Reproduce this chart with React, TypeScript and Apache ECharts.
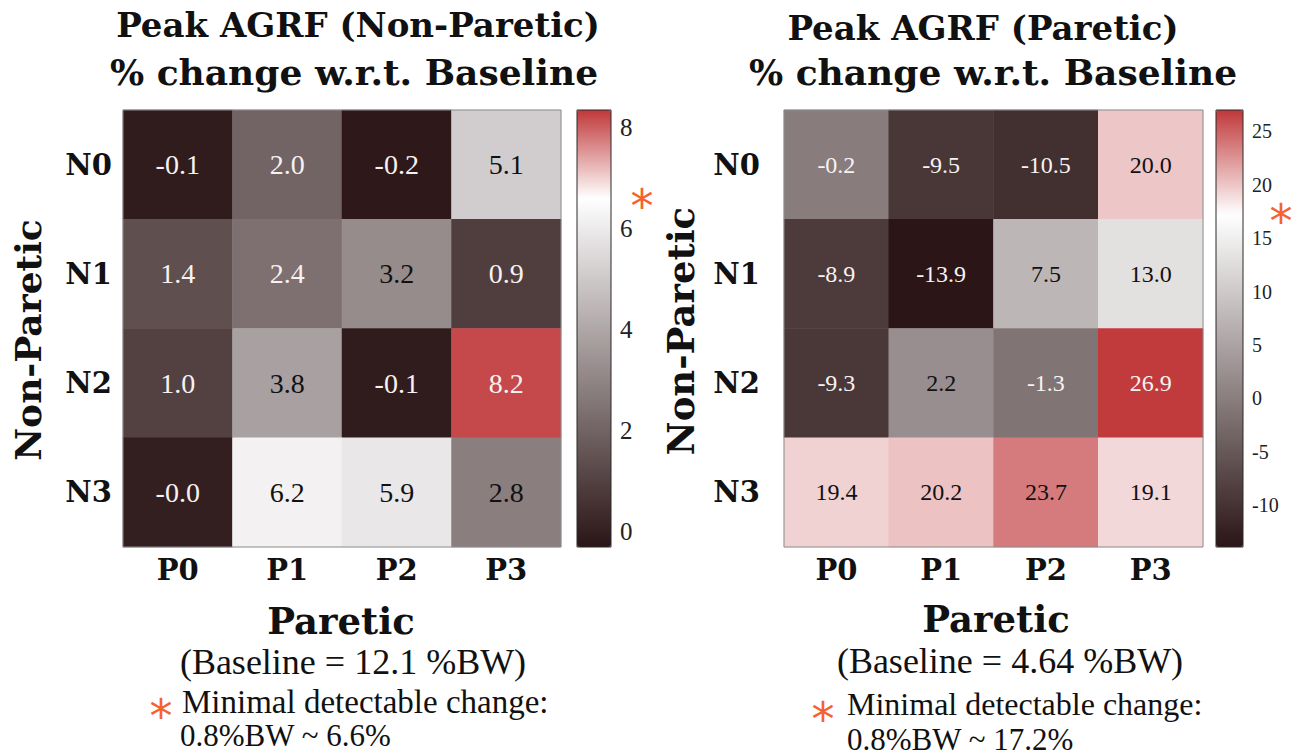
import React, { useEffect, useRef } from "react";
import * as echarts from "echarts";

// ---------------- data ----------------
const pareticCats = ["P0", "P1", "P2", "P3"];
const nonPareticCats = ["N0", "N1", "N2", "N3"];

// rows N0..N3, columns P0..P3
const nonPareticChange = [
  [-0.1, 2.0, -0.2, 5.1],
  [1.4, 2.4, 3.2, 0.9],
  [1.0, 3.8, -0.1, 8.2],
  [-0.0, 6.2, 5.9, 2.8],
];
const pareticChange = [
  [-0.2, -9.5, -10.5, 20.0],
  [-8.9, -13.9, 7.5, 13.0],
  [-9.3, 2.2, -1.3, 26.9],
  [19.4, 20.2, 23.7, 19.1],
];

const leftRange = [-0.3, 8.35];
const rightRange = [-13.9, 27.0];
const leftMDC = 6.6;
const rightMDC = 17.2;
const leftTicks = [0, 2, 4, 6, 8];
const rightTicks = [-10, -5, 0, 5, 10, 15, 20, 25];

const leftTitle = ["Peak AGRF (Non-Paretic)", "% change w.r.t. Baseline"];
const rightTitle = ["Peak AGRF (Paretic)", "% change w.r.t. Baseline"];
const leftBaseline = "(Baseline = 12.1 %BW)";
const rightBaseline = "(Baseline = 4.64 %BW)";
const mdcLine1 = "Minimal detectable change:";
const leftMdcLine2 = "0.8%BW ~ 6.6%";
const rightMdcLine2 = "0.8%BW ~ 17.2%";

// ---------------- styling helpers ----------------
const DARK = [43, 21, 22];
const WHITE = [255, 255, 255];
const RED = [192, 56, 58];
const ORANGE = "#f5622d";
const TITLE_FONT = "DejaVu Serif";
const TEXT_FONT = "Liberation Serif";

function cmap(v: number, min: number, max: number, mid: number) {
  let a: number[], b: number[], t: number;
  if (v <= mid) {
    a = DARK; b = WHITE; t = (v - min) / (mid - min);
  } else {
    a = WHITE; b = RED; t = (v - mid) / (max - mid);
  }
  t = Math.max(0, Math.min(1, t));
  return a.map((c, i) => Math.round(c + (b[i] - c) * t));
}
function stops(min: number, max: number, mid: number, n = 121) {
  const out: string[] = [];
  for (let i = 0; i < n; i++) {
    const v = min + ((max - min) * i) / (n - 1);
    out.push("rgb(" + cmap(v, min, max, mid).join(",") + ")");
  }
  return out;
}
function fmt(v: number) {
  const neg = v < 0 || Object.is(v, -0);
  return (neg ? "-" : "") + Math.abs(v).toFixed(1);
}
function cells(matrix: number[][], whiteBelow: number, whiteAbove: number) {
  const out: any[] = [];
  matrix.forEach((row, r) =>
    row.forEach((v, c) => {
      const light = v < whiteBelow || v > whiteAbove;
      out.push({ value: [c, r, v], label: { color: light ? "#f7f2f2" : "#111" } });
    })
  );
  return out;
}

export default function App() {
  const ref = useRef<HTMLDivElement>(null);
  useEffect(() => {
    if (!ref.current) return;
    const chart = echarts.init(ref.current, null, { renderer: "svg" });

    const heatGrid = (left: number, width: number) => ({
      left, top: 110, width, height: 437, show: true,
      borderColor: "#8c8c8c", borderWidth: 1, backgroundColor: "transparent", z: 10,
    });
    const cbGrid = (left: number, width: number) => ({
      left, top: 110, width, height: 437, show: true,
      borderColor: "#2a2a2a", borderWidth: 1, backgroundColor: "transparent", z: 10,
    });
    const catLabel = {
      fontFamily: TITLE_FONT, fontWeight: "bold", fontSize: 29, color: "#111",
    };
    const heatX = (gridIndex: number) => ({
      type: "category", gridIndex, data: pareticCats, position: "bottom",
      axisLine: { show: false }, axisTick: { show: false }, splitArea: { show: false },
      axisLabel: { ...catLabel, margin: 8 },
    });
    const heatY = (gridIndex: number, margin: number) => ({
      type: "category", gridIndex, data: nonPareticCats, inverse: true,
      axisLine: { show: false }, axisTick: { show: false }, splitArea: { show: false },
      axisLabel: { ...catLabel, margin },
    });
    const cbX = (gridIndex: number) => ({ type: "value", gridIndex, show: false, min: 0, max: 1 });
    const cbY = (gridIndex: number, range: number[], ticks: number[], fontSize: number) => ({
      type: "value", gridIndex, min: range[0], max: range[1], position: "right",
      axisLine: { show: false }, splitLine: { show: false },
      axisTick: { show: true, length: 4, customValues: ticks, lineStyle: { color: "#333" } },
      axisLabel: {
        customValues: ticks, fontFamily: TEXT_FONT, fontSize, color: "#222", margin: 9,
      },
    });
    const heatSeries = (xi: number, yi: number, data: any[], fontSize: number, matrix: number[][]) => ({
      type: "heatmap", xAxisIndex: xi, yAxisIndex: yi, data,
      label: {
        show: true, fontFamily: TEXT_FONT, fontSize,
        formatter: (p: any) => fmt(matrix[p.value[1]][p.value[0]]),
      },
      itemStyle: { borderWidth: 0 },
      emphasis: { disabled: true },
    });

    chart.setOption({
      animation: false,
      backgroundColor: "#ffffff",
      grid: [heatGrid(123, 438), cbGrid(577, 34), heatGrid(784, 419), cbGrid(1216, 27)],
      xAxis: [heatX(0), cbX(1), heatX(2), cbX(3)],
      yAxis: [heatY(0, 11), cbY(1, leftRange, leftTicks, 25), heatY(2, 24), cbY(3, rightRange, rightTicks, 20)],
      visualMap: [
        {
          type: "continuous", seriesIndex: 0, dimension: 2,
          min: leftRange[0], max: leftRange[1], calculable: false, hoverLink: false,
          left: 577, top: 110, itemWidth: 34, itemHeight: 437, padding: 0,
          inRange: { color: stops(leftRange[0], leftRange[1], leftMDC) },
        },
        {
          type: "continuous", seriesIndex: 1, dimension: 2,
          min: rightRange[0], max: rightRange[1], calculable: false, hoverLink: false,
          left: 1216, top: 110, itemWidth: 27, itemHeight: 437, padding: 0,
          inRange: { color: stops(rightRange[0], rightRange[1], rightMDC) },
        },
      ],
      series: [
        heatSeries(0, 0, cells(nonPareticChange, 2.6, 7.8), 28, nonPareticChange),
        heatSeries(2, 2, cells(pareticChange, 0, 25), 24, pareticChange),
      ],
    });

    const leftStarY = chart.convertToPixel({ yAxisIndex: 1 }, leftMDC) as number;
    const rightStarY = chart.convertToPixel({ yAxisIndex: 3 }, rightMDC) as number;

    const txt = (text: string, x: number, y: number, font: string, size: number, bold: boolean, align = "center", extra: any = {}, lineHeight?: number) => ({
      type: "text", x, y, ...extra,
      style: {
        text, fill: "#111", font: (bold ? "bold " : "") + size + "px '" + font + "'",
        align, verticalAlign: "middle", ...(lineHeight ? { lineHeight } : {}),
      },
    });
    const star = (x: number, y: number, size = 46) => ({
      type: "text", x, y,
      style: { text: "*", fill: ORANGE, font: size + "px 'DejaVu Sans'", align: "center", verticalAlign: "middle", lineHeight: 30 },
    });

    const graphics: any[] = [
      txt(leftTitle[0], 358, 25, TITLE_FONT, 34, true),
      txt(leftTitle[1], 354, 72, TITLE_FONT, 36, true),
      txt(rightTitle[0], 983, 28, TITLE_FONT, 34, true),
      txt(rightTitle[1], 993, 72, TITLE_FONT, 36, true),
      txt("Non-Paretic", 28, 340, TITLE_FONT, 36, true, "center", { rotation: Math.PI / 2 }),
      txt("Non-Paretic", 681, 331, TITLE_FONT, 37, true, "center", { rotation: Math.PI / 2 }),
      txt("Paretic", 341, 621, TITLE_FONT, 37, true),
      txt("Paretic", 996, 619, TITLE_FONT, 37, true),
      txt(leftBaseline, 353, 662, TEXT_FONT, 36, false, "center", {}, 36),
      txt(rightBaseline, 1010, 661, TEXT_FONT, 36, false, "center", {}, 36),
      txt(mdcLine1, 182, 702, TEXT_FONT, 33, false, "left", {}, 30),
      txt(leftMdcLine2, 180, 735, TEXT_FONT, 31, false, "left", {}, 30),
      txt(mdcLine1, 847, 704, TEXT_FONT, 32, false, "left", {}, 30),
      txt(rightMdcLine2, 847, 739, TEXT_FONT, 31, false, "left", {}, 30),
      star(161, 716),
      star(823, 719),
      star(642, leftStarY + 8),
      star(1281, rightStarY + 6),
    ];
    chart.setOption({ graphic: graphics });

    return () => chart.dispose();
  }, []);

  return (
    <div
      ref={ref}
      style={{ position: "fixed", left: 0, top: 0, width: 1296, height: 756, background: "#fff" }}
    />
  );
}
